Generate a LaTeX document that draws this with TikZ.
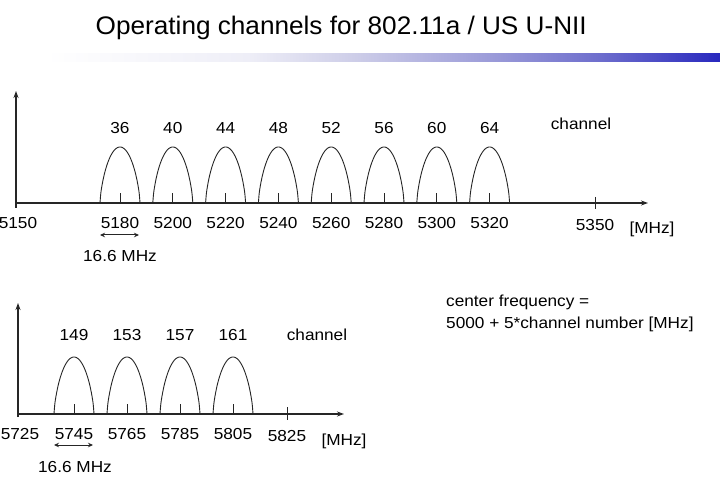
\documentclass[tikz,border=0pt]{standalone}
\usepackage{fontspec}
\setmainfont{Liberation Sans}[FakeStretch=1.08]
\newfontfamily\ttlfont{Liberation Sans}[FakeStretch=1.03]
\usetikzlibrary{arrows.meta}
\definecolor{bA}{RGB}{238,238,247}
\definecolor{bB}{RGB}{205,205,232}
\definecolor{bC}{RGB}{150,150,215}
\definecolor{bD}{RGB}{110,110,205}
\definecolor{bE}{RGB}{40,40,190}
\pgfdeclarehorizontalshading{barshade}{100bp}{color(0bp)=(white); color(25bp)=(white); color(40bp)=(bA); color(48bp)=(bB); color(59bp)=(bC); color(66bp)=(bD); color(75bp)=(bE); color(100bp)=(bE)}
\begin{document}
\begin{tikzpicture}[x=1bp,y=-1bp,
  lbl/.style={font=\fontsize{16}{19}\selectfont, inner sep=0pt, text height=11.5bp, text depth=0pt, anchor=center},
  ttl/.style={font=\ttlfont\fontsize{25.5}{30}\selectfont, inner sep=0pt, anchor=base west},
  axisline/.style={line width=1.3bp, draw=black!85, -{Stealth[length=7bp,width=5bp]}},
  hump/.style={line width=0.9bp, draw=black!85},
  tickline/.style={line width=0.9bp, draw=black!85},
  dbl/.style={line width=1bp, draw=black!85, {Stealth[length=5bp,width=4.5bp]}-{Stealth[length=5bp,width=4.5bp]}}]
\useasboundingbox (0,0) rectangle (720,489);
\fill[white] (0,0) rectangle (720,489);

% title and bar
\node[ttl] (title) at (95.5,35) {Operating channels for 802.11a / US U-NII};
\shade[shading=barshade] (46,54) rectangle (720,62);

% ---------- top diagram ----------
\coordinate (tyb) at (16,208);
\coordinate (tyt) at (16,91);
\coordinate (txl) at (16,203);
\coordinate (txr) at (648,203);
\draw[axisline] (tyb) -- (tyt);
\draw[axisline] (txl) -- (txr);

\foreach \i/\ch/\f in {0/36/5180,1/40/5200,2/44/5220,3/48/5240,4/52/5260,5/56/5280,6/60/5300,7/64/5320}{
  \pgfmathsetmacro\cx{120+52.8*\i}
  \draw[hump] plot[domain=-1:1,samples=61,smooth] ({\cx+20*\x},{203-56*pow(max(1-\x*\x,0.0001),0.7)});
  \coordinate (tb\i) at (\cx,203);
  \coordinate (tt\i) at (\cx,193);
  \draw[tickline] (tb\i) -- (tt\i);
  \node[lbl] (ch\ch) at (\cx,127.8) {\ch};
  \node[lbl] (f\f) at (\cx,222.5) {\f};
}
\coordinate (t5350a) at (595,197);
\coordinate (t5350b) at (595,209);
\draw[tickline] (t5350a) -- (t5350b);
\node[lbl] (f5150) at (18,222.5) {5150};
\node[lbl] (f5350) at (595,225) {5350};
\node[lbl] (mhz1) at (652,227.5) {[MHz]};
\node[lbl] (chan1) at (581,123.5) {channel};
\coordinate (da1) at (100,235);
\coordinate (da2) at (139,235);
\draw[dbl] (da1) -- (da2);
\node[lbl] (bw1) at (120,256) {16.6 MHz};

% ---------- bottom diagram ----------
\coordinate (byb) at (18,417);
\coordinate (byt) at (18,303);
\coordinate (bxl) at (18,414);
\coordinate (bxr) at (344,414);
\draw[axisline] (byb) -- (byt);
\draw[axisline] (bxl) -- (bxr);

\foreach \i/\ch/\f in {0/149/5745,1/153/5765,2/157/5785,3/161/5805}{
  \pgfmathsetmacro\cx{74+53*\i}
  \draw[hump] plot[domain=-1:1,samples=61,smooth] ({\cx+20*\x},{414-57*pow(max(1-\x*\x,0.0001),0.7)});
  \coordinate (bb\i) at (\cx,414);
  \coordinate (bt\i) at (\cx,404);
  \draw[tickline] (bb\i) -- (bt\i);
  \node[lbl] (ch\ch) at (\cx,334.5) {\ch};
  \node[lbl] (f\f) at (\cx,433.8) {\f};
}
\coordinate (t5825a) at (287,407);
\coordinate (t5825b) at (287,420);
\draw[tickline] (t5825a) -- (t5825b);
\node[lbl] (f5725) at (20,433.8) {5725};
\node[lbl] (f5825) at (287,436) {5825};
\node[lbl] (mhz2) at (344,440) {[MHz]};
\node[lbl] (chan2) at (317,334.5) {channel};
\coordinate (db1) at (54,445);
\coordinate (db2) at (93,445);
\draw[dbl] (db1) -- (db2);
\node[lbl] (bw2) at (75,467) {16.6 MHz};

% formula
\node[lbl, anchor=base west, text height=, text depth=] (cf1) at (446,306) {center frequency =};
\node[lbl, anchor=base west, text height=, text depth=] (cf2) at (446,328.3) {5000 + 5*channel number [MHz]};
\end{tikzpicture}
\end{document}
